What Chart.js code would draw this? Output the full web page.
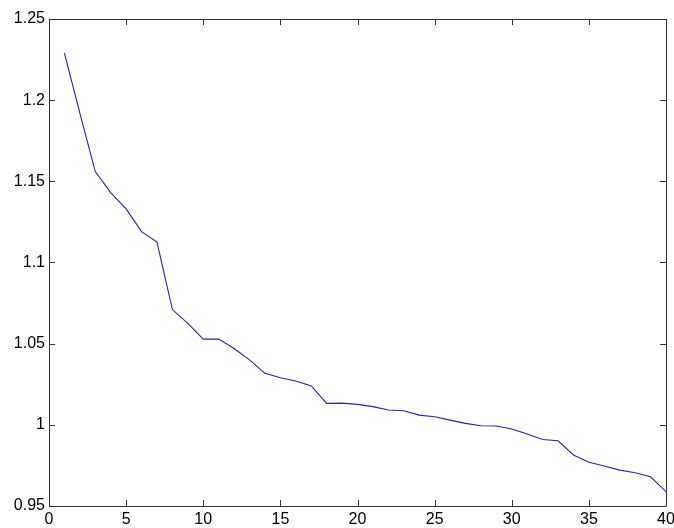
<!DOCTYPE html>
<html>
<head>
<meta charset="utf-8">
<script src="https://cdn.jsdelivr.net/npm/chart.js@4.4.0/dist/chart.umd.min.js"></script>
<style>
    html, body { margin: 0; padding: 0; background: #fff; }
    #wrap { width: 674px; height: 528px; }
</style>
</head>
<body>
<div id="wrap"><canvas id="curve-chart" width="674" height="528"></canvas></div>
<script>
// 資料：x 為 1..40，y 為從圖上讀出的數值
const xValues = [1, 2, 3, 4, 5, 6, 7, 8, 9, 10,
    11, 12, 13, 14, 15, 16, 17, 18, 19, 20,
    21, 22, 23, 24, 25, 26, 27, 28, 29, 30,
    31, 32, 33, 34, 35, 36, 37, 38, 39, 40];
const yValues = [1.229, 1.192, 1.156, 1.143, 1.133, 1.119, 1.1126, 1.071, 1.0625, 1.0528,
    1.0528, 1.047, 1.040, 1.0317, 1.029, 1.027, 1.024, 1.0132, 1.0134, 1.0126,
    1.0112, 1.0091, 1.0087, 1.006, 1.005, 1.0029, 1.0009, 0.9994, 0.9993, 0.9974,
    0.9943, 0.991, 0.9902, 0.9814, 0.977, 0.9746, 0.9721, 0.9705, 0.968, 0.9588];
const xTicks = [0, 5, 10, 15, 20, 25, 30, 35, 40];
const yTicks = [0.95, 1, 1.05, 1.1, 1.15, 1.2, 1.25];

const AXIS_COLOR = '#333333';
const TICK_LEN = 6;

// MATLAB 風格：外框 + 朝內的刻度線
const boxPlugin = {
    id: 'boxTicks',
    afterDraw(chart) {
        const { ctx, chartArea: a, scales } = chart;
        ctx.save();
        ctx.strokeStyle = AXIS_COLOR;
        ctx.lineWidth = 1;
        ctx.beginPath();
        ctx.rect(Math.round(a.left) + 0.5, Math.round(a.top) + 0.5,
            Math.round(a.right - a.left), Math.round(a.bottom - a.top));
        xTicks.forEach(v => {
            const px = Math.round(scales.x.getPixelForValue(v)) + 0.5;
            ctx.moveTo(px, a.bottom); ctx.lineTo(px, a.bottom - TICK_LEN);
            ctx.moveTo(px, a.top); ctx.lineTo(px, a.top + TICK_LEN);
        });
        yTicks.forEach(v => {
            const py = Math.round(scales.y.getPixelForValue(v)) + 0.5;
            ctx.moveTo(a.left, py); ctx.lineTo(a.left + TICK_LEN, py);
            ctx.moveTo(a.right, py); ctx.lineTo(a.right - TICK_LEN, py);
        });
        ctx.stroke();
        ctx.restore();
    }
};

const fmt = v => String(Number(v.toFixed(2)));

new Chart(document.getElementById('curve-chart'), {
    type: 'line',
    data: {
        datasets: [{
            data: xValues.map((x, i) => ({ x: x, y: yValues[i] })),
            borderColor: '#2424b4',
            borderWidth: 1.1,
            pointRadius: 0,
            tension: 0,
            fill: false
        }]
    },
    options: {
        responsive: false,
        animation: false,
        layout: { padding: { top: 19, right: 8, left: 0, bottom: 0 } },
        plugins: { legend: { display: false }, tooltip: { enabled: false } },
        scales: {
            x: {
                type: 'linear',
                min: 0, max: 40,
                afterBuildTicks: s => { s.ticks = xTicks.map(v => ({ value: v })); },
                afterFit: s => { s.height = 22; s.paddingLeft = 0; s.paddingRight = 0; },
                grid: { display: false, drawTicks: false },
                border: { display: false },
                ticks: {
                    color: '#000', padding: 4, maxRotation: 0, autoSkip: false,
                    font: { family: 'Liberation Sans, Arial, sans-serif', size: 16 },
                    callback: v => fmt(v)
                }
            },
            y: {
                min: 0.95, max: 1.25,
                afterBuildTicks: s => { s.ticks = yTicks.map(v => ({ value: v })); },
                afterFit: s => { s.width = 49; },
                grid: { display: false, drawTicks: false },
                border: { display: false },
                ticks: {
                    color: '#000', padding: 4, autoSkip: false,
                    font: { family: 'Liberation Sans, Arial, sans-serif', size: 16 },
                    callback: v => fmt(v)
                }
            }
        }
    },
    plugins: [boxPlugin]
});
</script>
</body>
</html>
